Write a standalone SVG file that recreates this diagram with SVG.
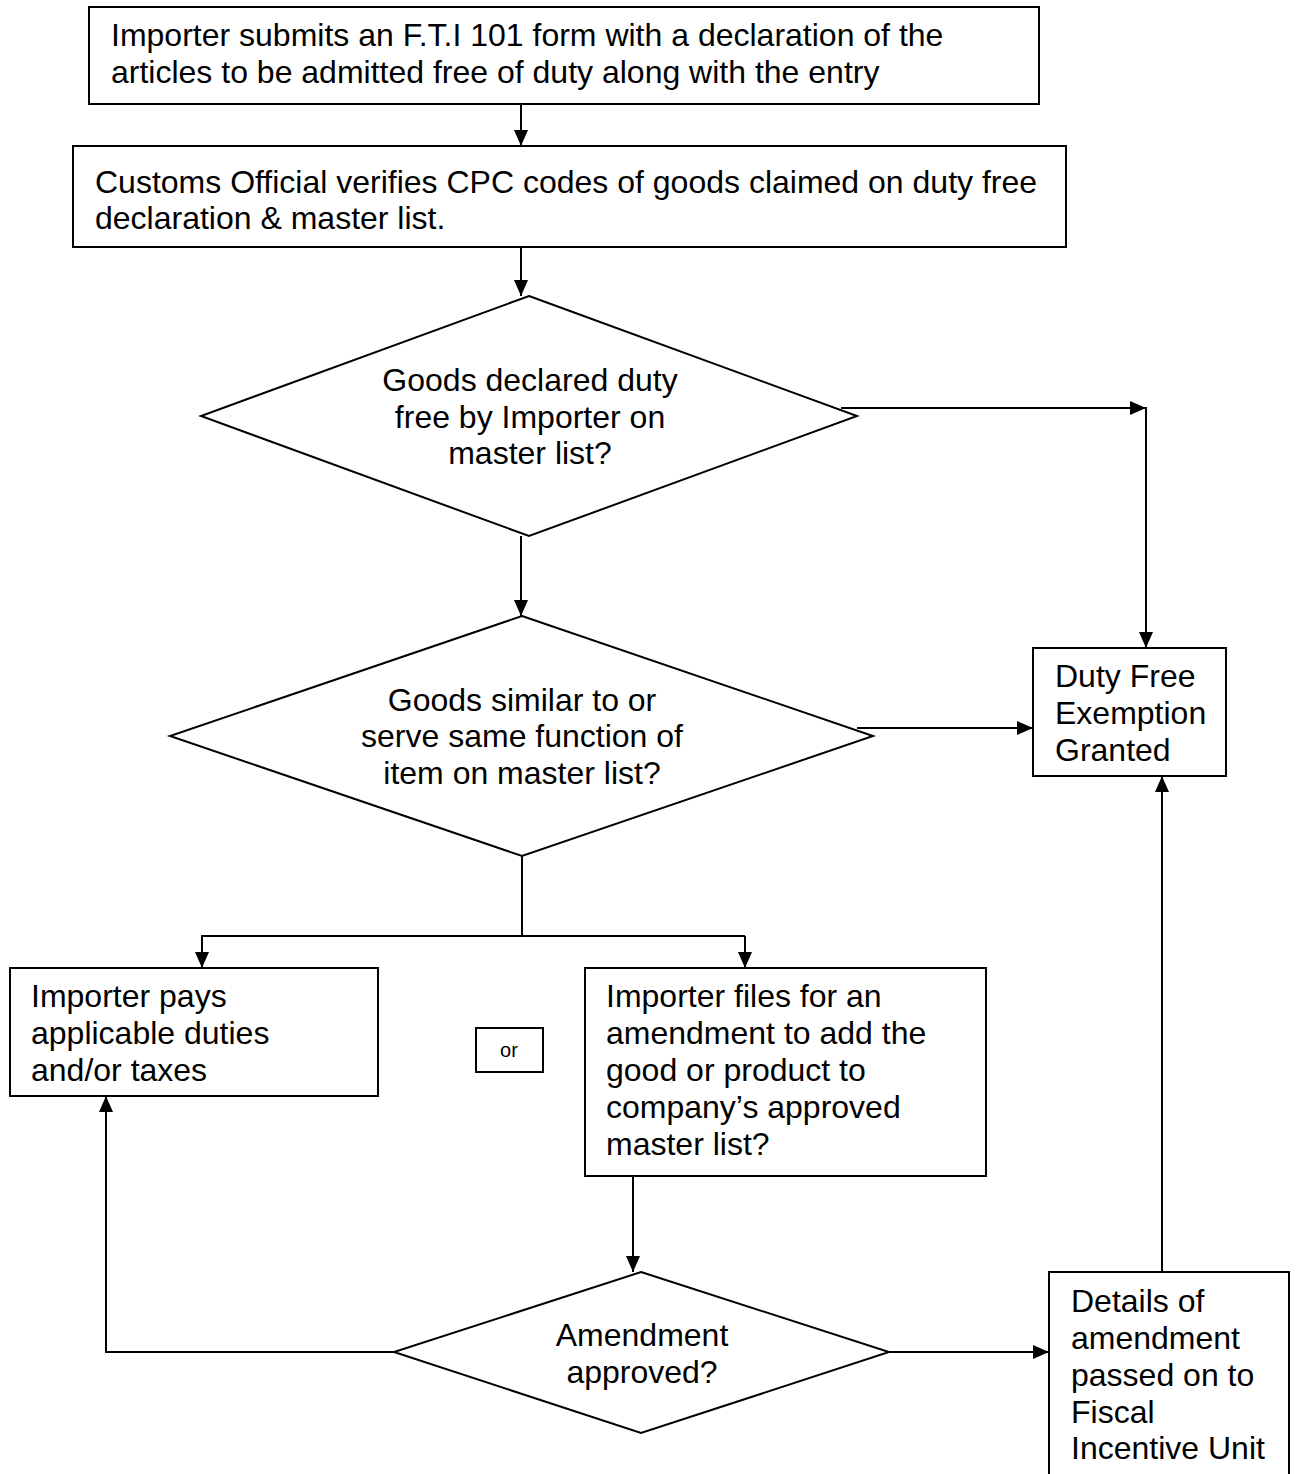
<svg xmlns="http://www.w3.org/2000/svg" width="1298" height="1474" viewBox="0 0 1298 1474">
<style>
.box{fill:#fff;stroke:#000;stroke-width:2}
.t{font-family:"Liberation Sans",Arial,sans-serif;font-size:32px;fill:#000}
.c{text-anchor:middle}
.ln{fill:none;stroke:#000;stroke-width:2}
</style>
<defs>
<marker id="ah" markerUnits="userSpaceOnUse" markerWidth="16" markerHeight="14" viewBox="0 0 16 14" refX="16" refY="7" orient="auto">
<path d="M0,0 L16,7 L0,14 z" fill="#000"/>
</marker>
</defs>
<rect width="1298" height="1474" fill="#fff"/>
<g id="connectors">
<line class="ln" x1="521" y1="104" x2="521" y2="146" marker-end="url(#ah)"/>
<line class="ln" x1="521" y1="247" x2="521" y2="296" marker-end="url(#ah)"/>
<line class="ln" x1="521" y1="536" x2="521" y2="616" marker-end="url(#ah)"/>
<line class="ln" x1="841" y1="408" x2="1146" y2="408" marker-end="url(#ah)"/>
<line class="ln" x1="1146" y1="407" x2="1146" y2="648" marker-end="url(#ah)"/>
<line class="ln" x1="857" y1="728" x2="1033" y2="728" marker-end="url(#ah)"/>
<polyline class="ln" points="522,856 522,936"/>
<polyline class="ln" points="202,968 202,936 745,936"/>
<line class="ln" x1="202" y1="936" x2="202" y2="968" marker-end="url(#ah)"/>
<line class="ln" x1="745" y1="936" x2="745" y2="968" marker-end="url(#ah)"/>
<line class="ln" x1="633" y1="1176" x2="633" y2="1272" marker-end="url(#ah)"/>
<polyline class="ln" points="394,1352 106,1352 106,1096" marker-end="url(#ah)"/>
<line class="ln" x1="889" y1="1352" x2="1049" y2="1352" marker-end="url(#ah)"/>
<line class="ln" x1="1162" y1="1272" x2="1162" y2="776" marker-end="url(#ah)"/>
</g>
<g id="n1">
<rect class="box" x="89" y="7" width="950" height="97"/>
<text class="t" x="111" y="46">Importer submits an F.T.I 101 form with a declaration of the</text>
<text class="t" x="111" y="83">articles to be admitted free of duty along with the entry</text>
</g>
<g id="n2">
<rect class="box" x="73" y="146" width="993" height="101"/>
<text class="t" x="95" y="193">Customs Official verifies CPC codes of goods claimed on duty free</text>
<text class="t" x="95" y="229">declaration &amp; master list.</text>
</g>
<g id="d1">
<polygon class="box" points="529,296 857,416 529,536 201,416"/>
<text class="t c" x="530" y="391">Goods declared duty</text>
<text class="t c" x="530" y="428">free by Importer on</text>
<text class="t c" x="530" y="464">master list?</text>
</g>
<g id="d2">
<polygon class="box" points="522,616 873,736 522,856 170,736"/>
<text class="t c" x="522" y="711">Goods similar to or</text>
<text class="t c" x="522" y="747">serve same function of</text>
<text class="t c" x="522" y="784">item on master list?</text>
</g>
<g id="n3">
<rect class="box" x="1033" y="648" width="193" height="128"/>
<text class="t" x="1055" y="687">Duty Free</text>
<text class="t" x="1055" y="724">Exemption</text>
<text class="t" x="1055" y="761">Granted</text>
</g>
<g id="n4">
<rect class="box" x="10" y="968" width="368" height="128"/>
<text class="t" x="31" y="1007">Importer pays</text>
<text class="t" x="31" y="1044">applicable duties</text>
<text class="t" x="31" y="1081">and/or taxes</text>
</g>
<g id="n5">
<rect class="box" x="476" y="1028" width="67" height="44" stroke-width="1.5"/>
<text class="t c" x="509" y="1057" style="font-size:20px">or</text>
</g>
<g id="n6">
<rect class="box" x="585" y="968" width="401" height="208"/>
<text class="t" x="606" y="1007">Importer files for an</text>
<text class="t" x="606" y="1044">amendment to add the</text>
<text class="t" x="606" y="1081">good or product to</text>
<text class="t" x="606" y="1118">company’s approved</text>
<text class="t" x="606" y="1155">master list?</text>
</g>
<g id="d3">
<polygon class="box" points="641,1272 889,1352 641,1433 394,1352"/>
<text class="t c" x="642" y="1346">Amendment</text>
<text class="t c" x="642" y="1383">approved?</text>
</g>
<g id="n7">
<rect class="box" x="1049" y="1272" width="240" height="230"/>
<text class="t" x="1071" y="1312">Details of</text>
<text class="t" x="1071" y="1349">amendment</text>
<text class="t" x="1071" y="1386">passed on to</text>
<text class="t" x="1071" y="1423">Fiscal</text>
<text class="t" x="1071" y="1459">Incentive Unit</text>
</g>
</svg>
